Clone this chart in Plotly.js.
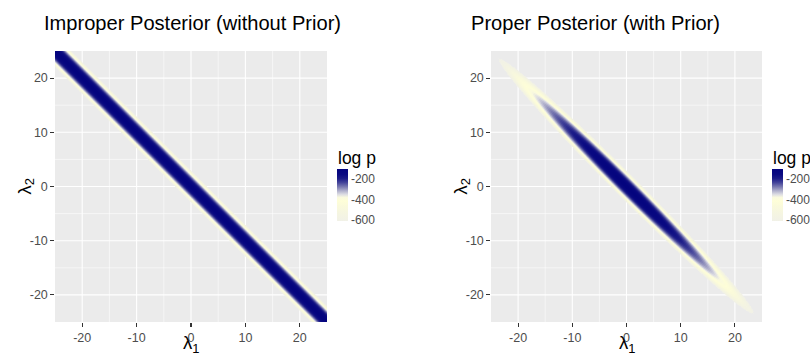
<!DOCTYPE html>
<html><head><meta charset="utf-8">
<script src="https://cdn.plot.ly/plotly-3.0.1.min.js"></script>
<style>body{margin:0;background:#fff}#chart{width:810px;height:355px}</style>
</head><body><div id="chart"></div>
<script>
// ---- data ----
// log-likelihood across the ridge, by |lambda1 + lambda2| (step 0.125)
const ridgeStep = 0.125;
const logLikelihood = [-96.0, -96.9, -99.7, -104.3, -110.8, -119.1, -129.2, -141.2,
  -155.1, -170.8, -188.3, -207.7, -229.0, -252.1, -277.0, -303.8,
  -332.4, -362.9, -395.2, -429.4, -465.4, -503.2, -542.9, -584.5];
// log-prior along the ridge, by |lambda1 - lambda2| (step 0.5), relative to the origin
const alongStep = 0.5;
const logPrior = [0, -0.1, -0.2, -0.5, -0.9, -1.4, -2.1, -2.8, -3.7, -4.7,
  -5.8, -7.0, -8.3, -9.8, -11.3, -13.0, -14.8, -16.7, -18.7, -20.8,
  -23.1, -25.5, -28.0, -30.5, -33.3, -36.1, -39.0, -42.1, -45.3, -48.6,
  -52.0, -55.5, -59.1, -62.9, -66.8, -70.7, -74.8, -79.1, -83.4, -87.8,
  -92.4, -97.1, -101.9, -106.8, -111.8, -116.9, -122.2, -127.6, -133.1, -138.7,
  -144.4, -150.2, -156.2, -162.2, -168.4, -174.7, -181.1, -187.6, -194.3, -201.0,
  -207.9, -214.9, -222.0, -229.2, -236.5, -244.0, -251.6, -259.2, -267.0, -274.9,
  -283.0, -291.1, -299.4, -307.8, -316.2, -324.8, -333.6, -342.4, -351.4, -360.4,
  -369.6, -378.9, -388.3, -397.8, -407.5, -417.2, -427.1, -437.1, -447.2, -457.4,
  -467.8, -478.2, -488.8, -499.5, -510.3];
const logPCutoff = -607;
const colorLimits = [-607, -96];
const legendTitle = 'log p';
const legendTicks = [-600, -400, -200];
const legendTickText = ['-600', '-400', '-200'];
const axisTicks = [-20, -10, 0, 10, 20];
const axisTickText = ['-20', '-10', '0', '10', '20'];
const minorTicks = [-15, -5, 5, 15];
const panelTitles = ['Improper Posterior (without Prior)', 'Proper Posterior (with Prior)'];
const xTitle = 'λ<sub>1</sub>', yTitle = 'λ<sub>2</sub>';
const colorStopValues = [-607, -530, -460, -410, -375, -345, -310, -270, -230, -190, -150, -96];
const colorStopColors = ['#F1F1E7', '#F5F5E1', '#FAFADB', '#FEFED8', '#FAFADF', '#DCDCE3',
  '#B0B0CC', '#7878B0', '#44449A', '#1C1C88', '#0A0A82', '#04047E'];

// ---- grid over the parameter space (cell centres offset by half a step) ----
const gridStep = 0.125;
const lam = [];
for (let k = 0; k <= 401; k++) lam.push(-25.0625 + k * gridStep);

const zImproper = [], zProper = [];
for (let i = 0; i < lam.length; i++) {
  const rowA = [], rowB = [];
  for (let j = 0; j < lam.length; j++) {
    const s = Math.abs(lam[j] + lam[i]);
    const u = Math.abs(lam[j] - lam[i]);
    const k = Math.round(s / ridgeStep);
    const m = Math.round(u / alongStep);
    if (k >= logLikelihood.length) { rowA.push(null); rowB.push(null); continue; }
    rowA.push(logLikelihood[k]);
    if (m >= logPrior.length) { rowB.push(null); continue; }
    const v = logLikelihood[k] + logPrior[m];
    rowB.push(v < logPCutoff ? null : v);
  }
  zImproper.push(rowA); zProper.push(rowB);
}

const span = colorLimits[1] - colorLimits[0];
const colorscale = colorStopValues.map((v, n) => [(v - colorLimits[0]) / span, colorStopColors[n]]);

const W = 810, H = 355;
const font = 'Liberation Sans, Arial, sans-serif';
function cbar(xpx) {
  return {
    x: xpx / W, xanchor: 'left', xref: 'paper', xpad: 0, ypad: 0,
    y: (H - 220.7) / H, yanchor: 'bottom', yref: 'paper',
    len: 52.4, lenmode: 'pixels', thickness: 11, thicknessmode: 'pixels',
    outlinewidth: 0, ticks: '', tickvals: legendTicks, ticktext: legendTickText,
    tickfont: {size: 12, color: '#4D4D4D', family: font}
  };
}
const traces = [
  {type: 'heatmap', x: lam, y: lam, z: zImproper, xaxis: 'x', yaxis: 'y',
   zmin: colorLimits[0], zmax: colorLimits[1], colorscale: colorscale, zsmooth: 'fast',
   hoverinfo: 'skip', colorbar: cbar(337)},
  {type: 'heatmap', x: lam, y: lam, z: zProper, xaxis: 'x2', yaxis: 'y2',
   zmin: colorLimits[0], zmax: colorLimits[1], colorscale: colorscale, zsmooth: 'fast',
   hoverinfo: 'skip', colorbar: cbar(772)}
];

function axisBase(domain, anchor) {
  return {
    domain: domain, anchor: anchor, range: [-25, 25], autorange: false,
    tickvals: axisTicks, ticktext: axisTickText, ticks: 'outside', ticklen: 3.7,
    tickwidth: 1.07, tickcolor: '#333333', tickfont: {size: 12.5, color: '#4D4D4D', family: font},
    showgrid: false, zeroline: false, showline: false, fixedrange: true
  };
}
// panel grid lines, drawn beneath the heatmaps
const shapes = [];
[['x', 'y'], ['x2', 'y2']].forEach(([xa, ya]) => {
  [[axisTicks, 1.1], [minorTicks, 0.55]].forEach(([vals, w]) => {
    vals.forEach(v => {
      shapes.push({type: 'line', layer: 'below', xref: xa, yref: ya + ' domain',
        x0: v, x1: v, y0: 0, y1: 1, line: {color: '#FFFFFF', width: w}});
      shapes.push({type: 'line', layer: 'below', xref: xa + ' domain', yref: ya,
        x0: 0, x1: 1, y0: v, y1: v, line: {color: '#FFFFFF', width: w}});
    });
  });
});

const yDom = [33 / H, 304 / H];
function textAnn(text, xpx, ypx, size, xanchor, angle) {
  return {text: text, x: xpx / W, y: 1 - ypx / H, xref: 'paper', yref: 'paper',
    xanchor: xanchor, yanchor: 'middle', showarrow: false, textangle: angle || 0,
    font: {size: size, color: '#000', family: font}};
}
const layout = {
  width: W, height: H, margin: {l: 0, r: 0, t: 0, b: 0},
  paper_bgcolor: '#FFFFFF', plot_bgcolor: '#EBEBEB',
  font: {family: font},
  showlegend: false,
  xaxis: axisBase([55 / W, 327 / W], 'y'),
  yaxis: axisBase(yDom, 'x'),
  xaxis2: axisBase([491 / W, 762 / W], 'y2'),
  yaxis2: axisBase(yDom, 'x2'),
  shapes: shapes,
  annotations: [
    textAnn(panelTitles[0], 41.7, 23, 20.1, 'left'),
    textAnn(panelTitles[1], 469, 23, 20.1, 'left'),
    textAnn(xTitle, 191, 344, 18.5, 'center'),
    textAnn(xTitle, 626.5, 344, 18.5, 'center'),
    textAnn(yTitle, 25, 186.5, 18.5, 'center', -90),
    textAnn(yTitle, 461, 186.5, 18.5, 'center', -90),
    textAnn(legendTitle, 336, 158, 17.5, 'left'),
    textAnn(legendTitle, 771, 158, 17.5, 'left')
  ]
};
Plotly.newPlot('chart', traces, layout, {staticPlot: true, displayModeBar: false});
</script></body></html>
